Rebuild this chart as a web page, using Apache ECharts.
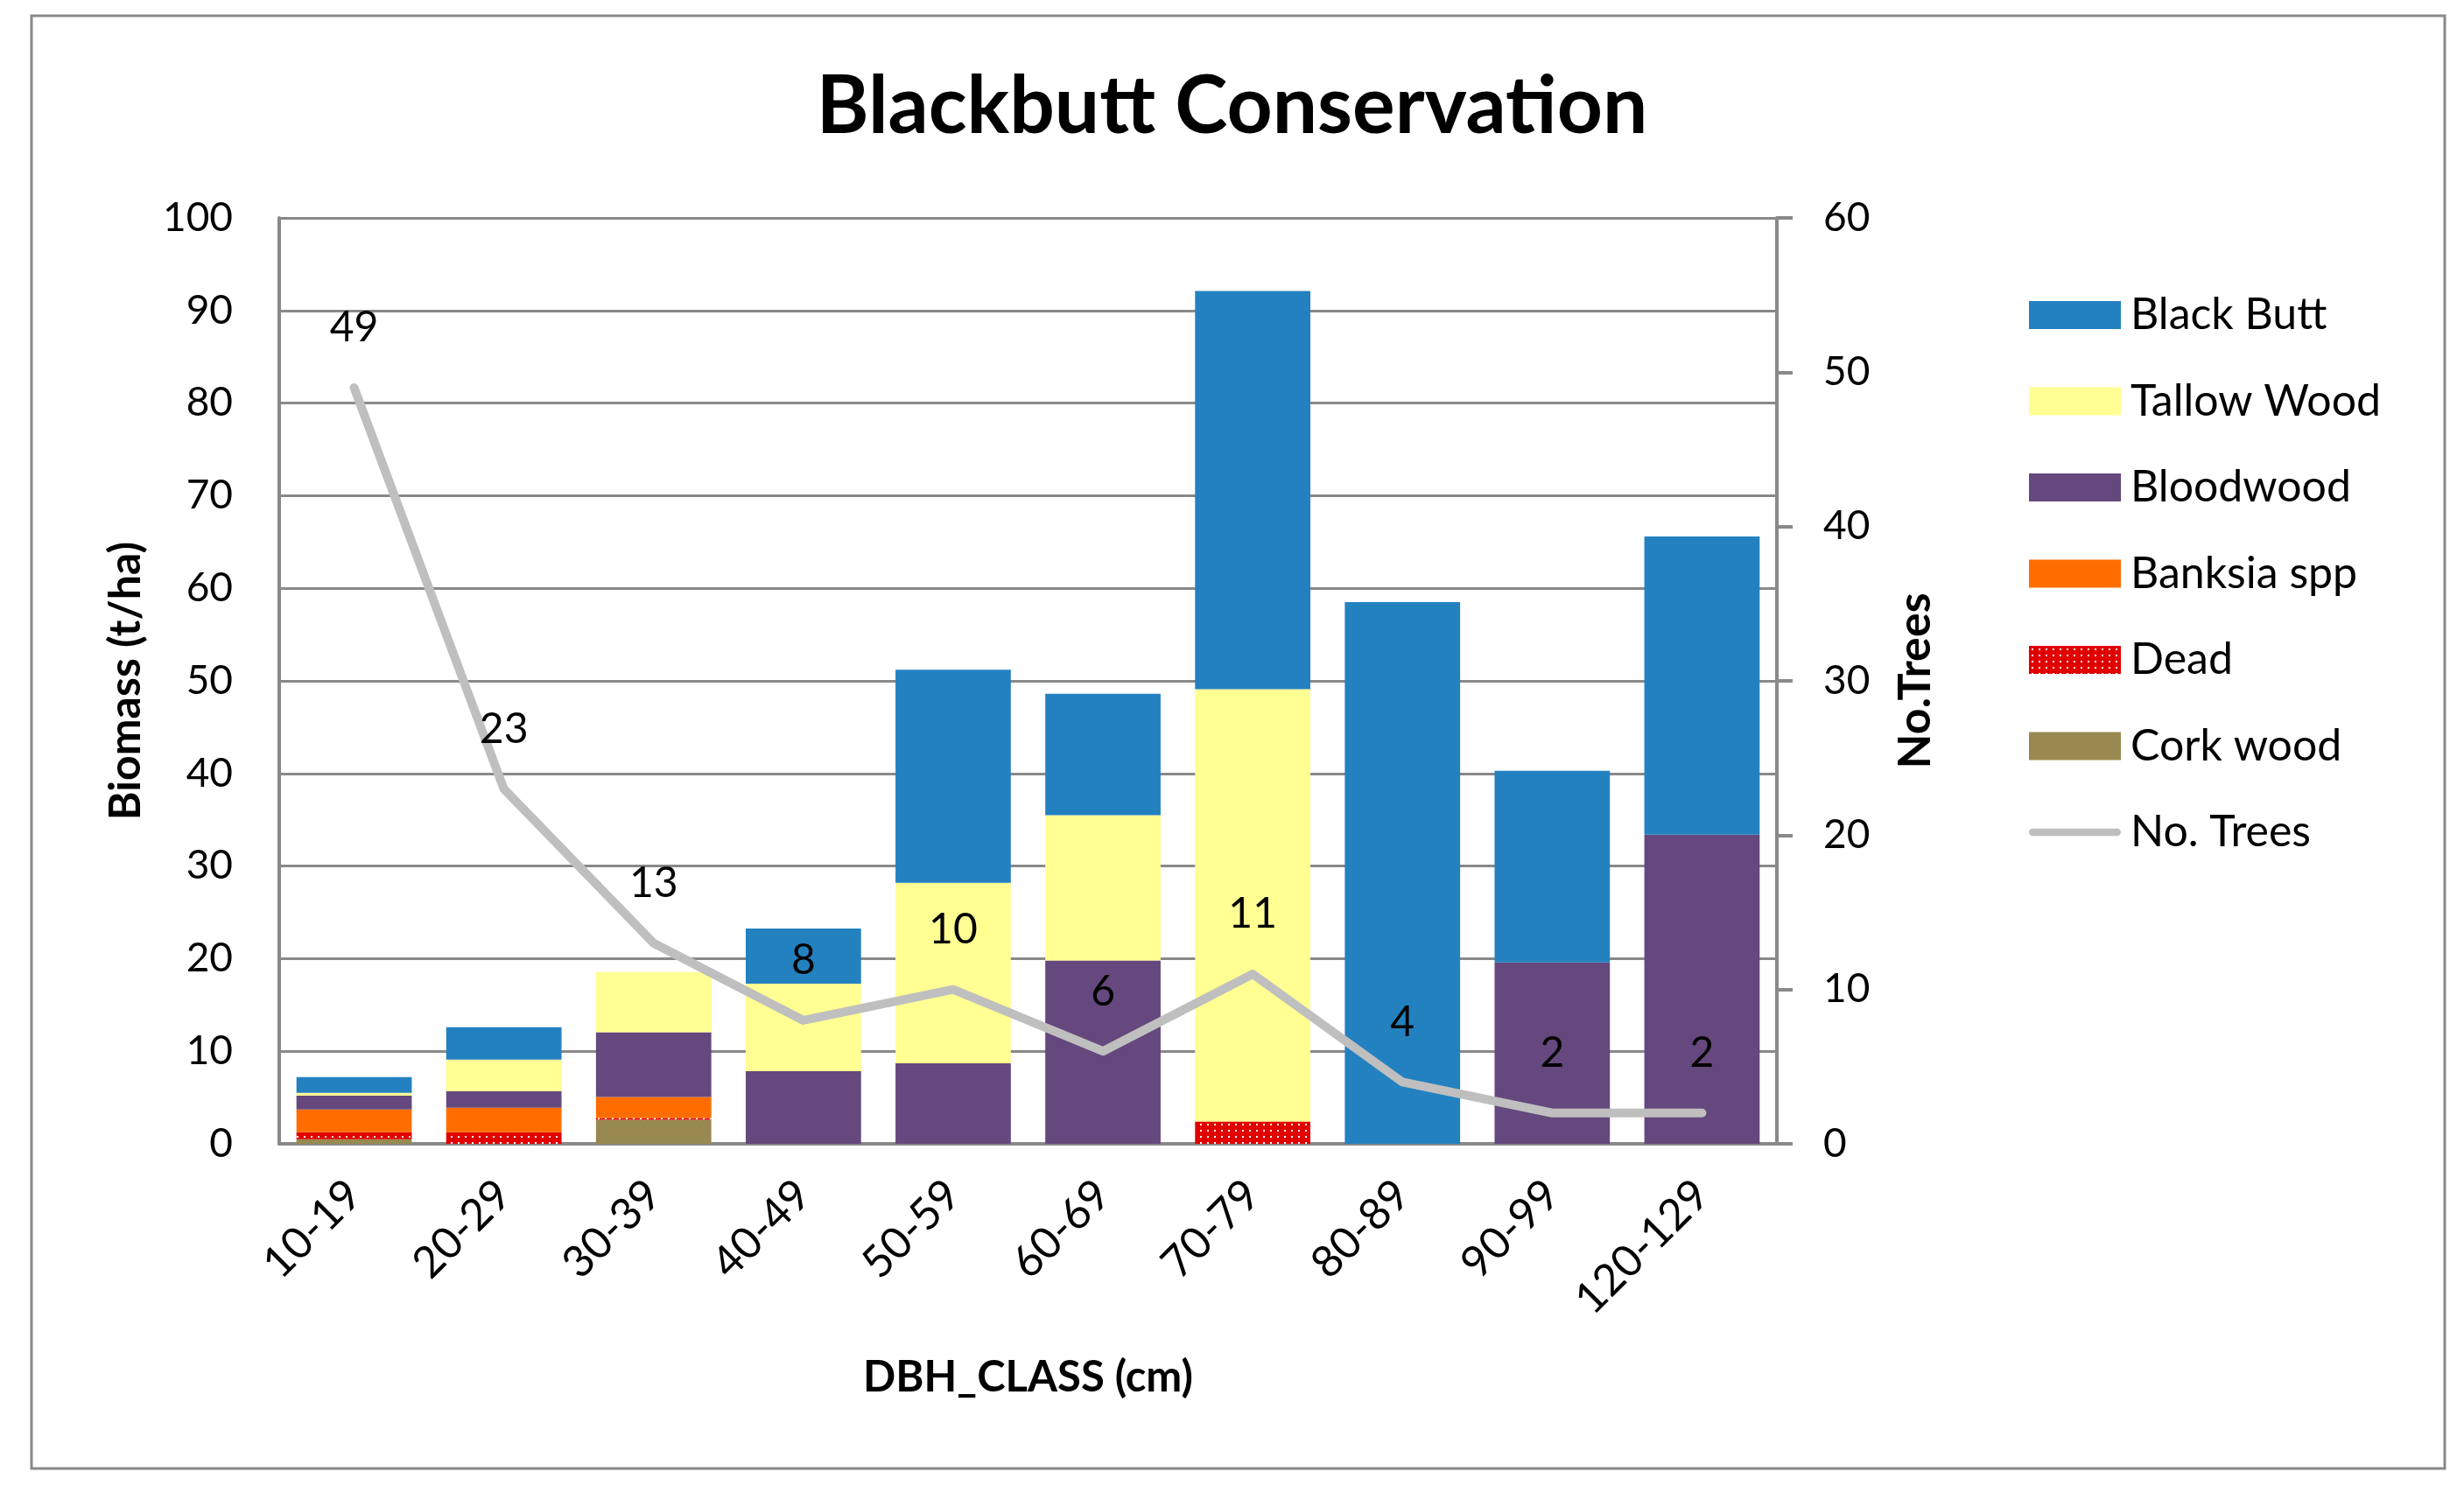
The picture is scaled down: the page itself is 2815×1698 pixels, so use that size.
<!DOCTYPE html>
<html>
<head>
<meta charset="utf-8">
<script src="https://cdn.jsdelivr.net/npm/echarts@6/dist/echarts.min.js"></script>
<style>
  html, body { margin: 0; padding: 0; background: #fff; }
  #chart { width: 2815px; height: 1698px; }
</style>
</head>
<body>
<div id="chart"></div>
<script>
// DBH classes and biomass (t/ha) per species
var classes = ['10-19', '20-29', '30-39', '40-49', '50-59', '60-69', '70-79', '80-89', '90-99', '120-129'];
var corkWood  = [0.5, 0, 2.6, 0, 0, 0, 0, 0, 0, 0];
var dead      = [0.75, 1.25, 0.2, 0, 0, 0, 2.4, 0, 0, 0];
var banksia   = [2.45, 2.65, 2.25, 0, 0, 0, 0, 0, 0, 0];
var bloodwood = [1.5, 1.8, 7.0, 7.85, 8.7, 19.8, 0, 0, 19.6, 33.4];
var tallow    = [0.3, 3.4, 6.5, 9.45, 19.5, 15.7, 46.7, 0, 0, 0];
var blackButt = [1.7, 3.5, 0, 5.95, 23.0, 13.1, 43.0, 58.5, 20.7, 32.2];
var noTrees   = [49, 23, 13, 8, 10, 6, 11, 4, 2, 2];

var FONT = 'Lato';

// dotted red fill used for "Dead"
var pat = document.createElement('canvas');
pat.width = 8; pat.height = 7;
var ctx = pat.getContext('2d');
ctx.fillStyle = '#E00000';
ctx.fillRect(0, 0, 8, 7);
ctx.fillStyle = '#ffffff';
ctx.fillRect(3, 3, 2, 2);

var chart = echarts.init(document.getElementById('chart'));

function barSeries(name, data, color) {
    return {
        name: name,
        type: 'bar',
        stack: 'bio',
        barCategoryGap: '23%',
        itemStyle: { color: color },
        data: data
    };
}

// rounded thick bar as legend icon for the line
var lineIcon = 'path://M4,0 L96,0 A4,4 0 0 1 96,8 L4,8 A4,4 0 0 1 4,0 Z';

var option = {
    backgroundColor: '#fff',
    animation: false,
    title: {
        text: 'Blackbutt Conservation',
        left: 'center',
        top: 72,
        textStyle: { fontFamily: FONT, fontWeight: 'bold', fontSize: 91, color: '#000' }
    },
    graphic: [{
        type: 'rect',
        shape: { x: 36, y: 18, width: 2757, height: 1660 },
        style: { fill: 'none', stroke: '#898989', lineWidth: 3 },
        silent: true,
        z: -1
    }],
    legend: {
        orient: 'vertical',
        left: 2313,
        top: 330,
        itemWidth: 105,
        itemHeight: 32,
        itemGap: 48.5,
        icon: 'rect',
        textStyle: { fontFamily: FONT, fontSize: 50, color: '#000', padding: [0, 0, 0, 6] },
        data: ['Black Butt', 'Tallow Wood', 'Bloodwood', 'Banksia spp', 'Dead', 'Cork wood',
            { name: 'No. Trees', icon: lineIcon, itemStyle: { color: '#BFBFBF', borderWidth: 0 } }]
    },
    grid: { left: 319, right: 785, top: 249, bottom: 391 },
    xAxis: {
        type: 'category',
        data: classes,
        name: 'DBH_CLASS (cm)',
        nameLocation: 'middle',
        nameGap: 243,
        nameTextStyle: { fontFamily: FONT, fontWeight: 'bold', fontSize: 49, color: '#000' },
        axisLine: { lineStyle: { color: '#898989', width: 4 } },
        axisTick: { show: false },
        axisLabel: {
            interval: 0,
            rotate: 45,
            margin: 50,
            fontFamily: FONT,
            fontSize: 50,
            color: '#000'
        }
    },
    yAxis: [{
        type: 'value',
        min: 0,
        max: 100,
        interval: 10,
        name: 'Biomass (t/ha)',
        nameLocation: 'middle',
        nameGap: 150,
        nameTextStyle: { fontFamily: FONT, fontWeight: 'bold', fontSize: 50, color: '#000' },
        axisLine: { show: true, lineStyle: { color: '#898989', width: 4 } },
        axisTick: { show: false },
        axisLabel: { margin: 53, fontFamily: FONT, fontSize: 46, color: '#000' },
        splitLine: { lineStyle: { color: '#898989', width: 3 } }
    }, {
        type: 'value',
        min: 0,
        max: 60,
        interval: 10,
        position: 'right',
        name: 'No.Trees',
        nameLocation: 'middle',
        nameGap: 132,
        nameRotate: 90,
        nameTextStyle: { fontFamily: FONT, fontWeight: 'bold', fontSize: 52, color: '#000' },
        axisLine: { show: true, lineStyle: { color: '#898989', width: 4 } },
        axisTick: { show: true, length: 18, lineStyle: { color: '#898989', width: 4 } },
        axisLabel: { margin: 53, fontFamily: FONT, fontSize: 46, color: '#000' },
        splitLine: { show: false }
    }],
    series: [
        barSeries('Cork wood', corkWood, '#988950'),
        barSeries('Dead', dead, { image: pat, repeat: 'repeat' }),
        barSeries('Banksia spp', banksia, '#FF6D00'),
        barSeries('Bloodwood', bloodwood, '#65487D'),
        barSeries('Tallow Wood', tallow, '#FFFF93'),
        barSeries('Black Butt', blackButt, '#2481C0'),
        {
            name: 'No. Trees',
            type: 'line',
            yAxisIndex: 1,
            data: noTrees,
            symbol: 'circle',
            symbolSize: 0.1,
            showSymbol: true,
            lineStyle: { color: '#BFBFBF', width: 10, cap: 'round', join: 'round' },
            itemStyle: { color: '#BFBFBF' },
            label: {
                show: true,
                position: 'top',
                distance: 44,
                fontFamily: FONT,
                fontSize: 48,
                color: '#000'
            },
            z: 5
        }
    ]
};

chart.setOption(option);
</script>
</body>
</html>
